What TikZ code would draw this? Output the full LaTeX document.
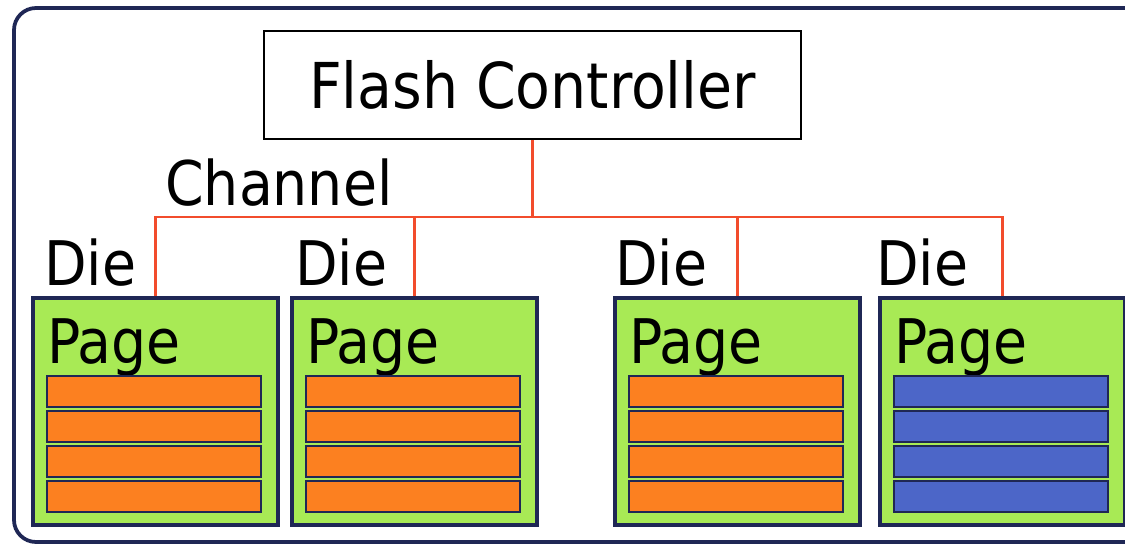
\documentclass[tikz,border=0pt]{standalone}
\usepackage{fontspec}
\setmainfont{DejaVu Sans Condensed}
\definecolor{dienavy}{HTML}{1F2755}
\definecolor{diegreen}{HTML}{A8EA55}
\definecolor{pageorange}{HTML}{FC8020}
\definecolor{pageblue}{HTML}{4C66C8}
\definecolor{chanred}{HTML}{F24C2C}
\begin{document}
\begin{tikzpicture}[x=0.02cm,y=-0.02cm,
		lbl/.style={inner sep=0pt,font=\fontsize{35}{42}\selectfont},
		diebox/.style={draw=dienavy,fill=diegreen,line width=0.075cm,
			minimum width=4.9cm,minimum height=4.54cm,inner sep=0pt,anchor=north west},
		chan/.style={draw=chanred,line width=0.05cm}]
		\useasboundingbox (0,0) rectangle (1125,544);
		\clip (0,0) rectangle (1125,544);
		\draw[dienavy,line width=0.075cm,rounded corners=0.44cm] (14,8) rectangle (1180,542);
		\node[draw,line width=0.04cm,minimum width=10.74cm,minimum height=2.16cm,inner sep=0pt,
			font=\fontsize{36}{42}\selectfont] (ctrl) at (532.5,85) {Flash Controller};
		\node[lbl,anchor=base west] (chlbl) at (165,205) {Channel};
		% four dies, the last one with blue pages
		\foreach \i/\x/\lx/\c in {1/31/44/pageorange,2/290/295/pageorange,3/613/615/pageorange,4/878/876/pageblue} {
			\node[diebox] (die\i) at (\x,296) {};
			\node[lbl,anchor=base west] (dielbl\i) at (\lx,285) {Die};
			\node[lbl,anchor=base west] (pagelbl\i) at (\x+16,363) {Page};
			\foreach \y in {376,411,446,481}
				\draw[fill=\c,draw=dienavy,line width=0.05cm] (\x+16,\y) rectangle (\x+230,\y+31);
		}
		\coordinate (bus) at (ctrl.south |- 0,217);
		\draw[chan] (ctrl.south) -- (bus);
		\draw[chan] (die1.north) |- (bus) -| (die4.north);
		\draw[chan] (die2.north) -- (die2.north |- bus);
		\draw[chan] (die3.north) -- (die3.north |- bus);
	\end{tikzpicture}
\end{document}
